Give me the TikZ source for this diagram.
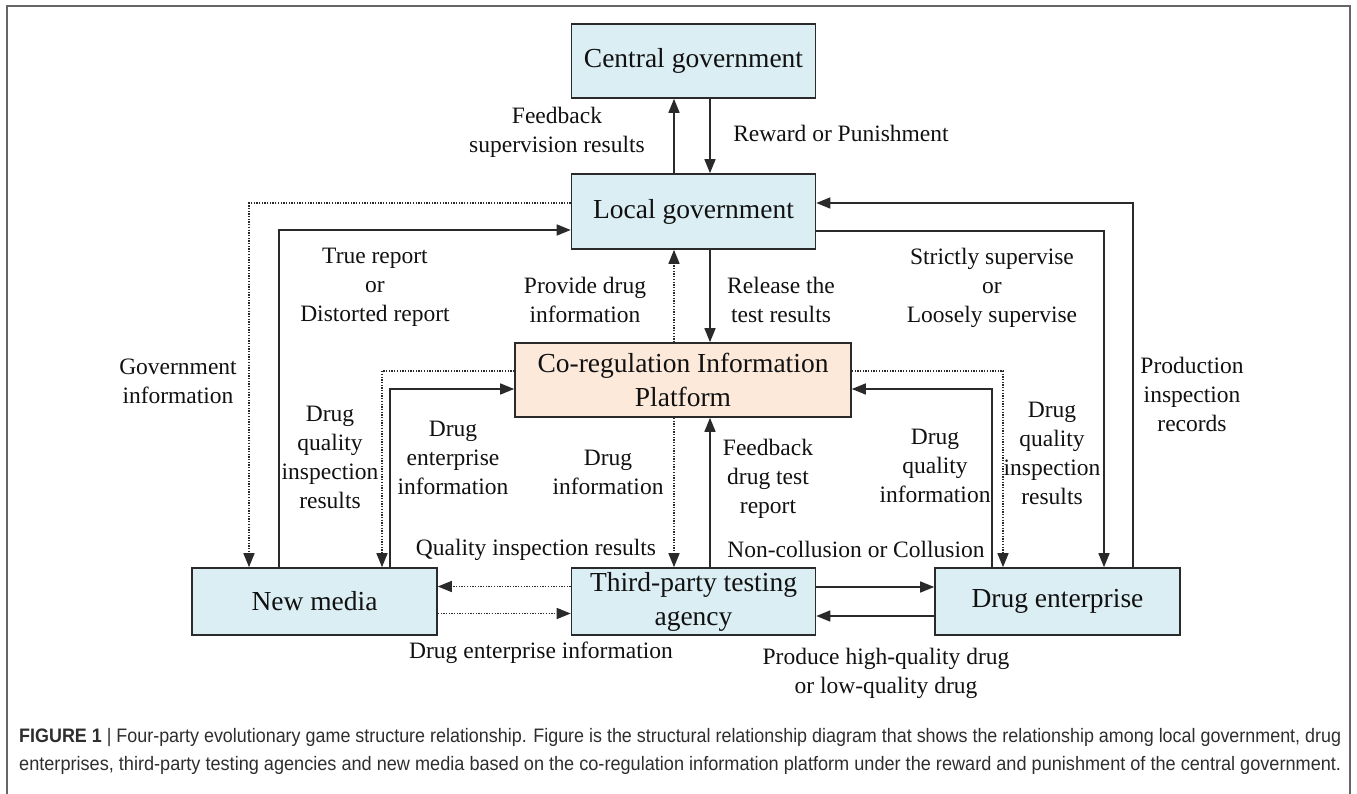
\documentclass[tikz,border=0pt]{standalone}
\usepackage{fontspec}
\usepackage{graphicx}
\setmainfont{Liberation Serif}
\newfontfamily\capfont{Liberation Sans}
\usetikzlibrary{arrows.meta}
\definecolor{boxblue}{HTML}{DBEEF4}
\definecolor{boxpeach}{HTML}{FCE9DA}
\definecolor{edge}{HTML}{2A2A2A}
\definecolor{ink}{HTML}{111111}
\definecolor{capink}{HTML}{2E2E2E}
\definecolor{framegray}{HTML}{666666}
\begin{document}
\begin{tikzpicture}[x=1pt,y=-1pt,
  box/.style={draw=edge, line width=1.6pt, fill=boxblue, inner sep=0pt, align=center,
    minimum width=244pt, minimum height=74pt, text=ink, font=\fontsize{27.5}{34}\selectfont},
  lowbox/.style={box, minimum height=67pt},
  lbl/.style={align=center, inner sep=0pt, text=ink, font=\fontsize{23.5}{29}\selectfont},
  conn/.style={draw=edge, line width=1.5pt, -{Triangle[length=14pt,width=11pt]}},
  dotconn/.style={conn, dash pattern=on 1.3pt off 1.4pt},
  capline/.style={anchor=west, inner sep=0pt, text=capink}
]
\useasboundingbox (0,0) rectangle (1357,794);
% outer frame
\draw[framegray, line width=1.6pt] (7,800) -- (7,6) -- (1350,6) -- (1350,800);

% nodes
\node[box] (cg) at (693.5,61) {Central government};
\node[box, minimum height=75pt] (lg) at (693.5,211.5) {Local government};
\node[box, fill=boxpeach, minimum width=336pt] (cp) at (683,380) {Co-regulation Information\\Platform};
\node[lowbox, minimum width=245pt] (nm) at (314.5,601.5) {New media};
\node[lowbox] (tp) at (693.5,601.5) {Third-party testing\\agency};
\node[lowbox, minimum width=245pt] (de) at (1057.5,601.5) {Drug enterprise};

% column / corner coordinates
\coordinate (xL) at (674,0);
\coordinate (xR) at (710,0);
\coordinate (a1) at (249,203);
\coordinate (a2) at (279,230);
\coordinate (a3) at (382,371);
\coordinate (a4) at (390,389);
\coordinate (b1) at (1133,203);
\coordinate (b2) at (1104,231);
\coordinate (b3) at (1003,371);
\coordinate (b4) at (992,389);
\coordinate (h1) at (0,586.5);
\coordinate (h2) at (0,613.5);
\coordinate (h3) at (0,587);
\coordinate (h4) at (0,616);

% vertical centre column
\draw[conn] (lg.north -| xL) -- (cg.south -| xL);
\draw[conn] (cg.south -| xR) -- (lg.north -| xR);
\draw[dotconn] (cp.north -| xL) -- (lg.south -| xL);
\draw[conn] (lg.south -| xR) -- (cp.north -| xR);
\draw[dotconn] (cp.south -| xL) -- (tp.north -| xL);
\draw[conn] (tp.north -| xR) -- (cp.south -| xR);

% left side
\draw[dotconn] (lg.west |- a1) -- (a1) -- (nm.north -| a1);
\draw[conn] (nm.north -| a2) -- (a2) -- (lg.west |- a2);
\draw[dotconn] (cp.west |- a3) -- (a3) -- (nm.north -| a3);
\draw[conn] (nm.north -| a4) -- (a4) -- (cp.west |- a4);

% right side
\draw[conn] (de.north -| b1) -- (b1) -- (lg.east |- b1);
\draw[conn] (lg.east |- b2) -- (b2) -- (de.north -| b2);
\draw[dotconn] (cp.east |- b3) -- (b3) -- (de.north -| b3);
\draw[conn] (de.north -| b4) -- (b4) -- (cp.east |- b4);

% bottom row
\draw[dotconn] (tp.west |- h1) -- (nm.east |- h1);
\draw[dotconn] (nm.east |- h2) -- (tp.west |- h2);
\draw[conn] (tp.east |- h3) -- (de.west |- h3);
\draw[conn] (de.west |- h4) -- (tp.east |- h4);

% labels
\node[lbl] (l1) at (557,132) {Feedback\\supervision results};
\node[lbl] (l2) at (841,133) {Reward or Punishment};
\node[lbl] (l3) at (375,287) {True report\\or\\Distorted report};
\node[lbl] (l4) at (585,300) {Provide drug\\information};
\node[lbl] (l5) at (781,300) {Release the\\test results};
\node[lbl] (l6) at (992,288) {Strictly supervise\\or\\Loosely supervise};
\node[lbl] (l7) at (178,381) {Government\\information};
\node[lbl] (l8) at (1192,394) {Production\\inspection\\records};
\node[lbl] (l9) at (330,457) {Drug\\quality\\inspection\\results};
\node[lbl] (l10) at (453,458) {Drug\\enterprise\\information};
\node[lbl] (l11) at (608,472) {Drug\\information};
\node[lbl] (l12) at (768,479) {Feedback\\drug test\\report};
\node[lbl] (l13) at (935,466) {Drug\\quality\\information};
\node[lbl] (l14) at (1052,453) {Drug\\quality\\inspection\\results};
\node[lbl] (l15) at (536,550) {Quality inspection results};
\node[lbl] (l16) at (856,549) {Non-collusion or Collusion};
\node[lbl] (l17) at (541,653) {Drug enterprise information};
\node[lbl] (l18) at (886,673) {Produce high-quality drug\\or low-quality drug};

% caption
\node[capline] (cap1) at (19,737) {\resizebox{1322pt}{\height}{\capfont\fontsize{19.5}{23}\selectfont\textbf{FIGURE 1} | Four-party evolutionary game structure relationship. Figure is the structural relationship diagram that shows the relationship among local government, drug}};
\node[capline] (cap2) at (19,765) {\resizebox{1322pt}{\height}{\capfont\fontsize{19.5}{23}\selectfont enterprises, third-party testing agencies and new media based on the co-regulation information platform under the reward and punishment of the central government.}};
\end{tikzpicture}
\end{document}
